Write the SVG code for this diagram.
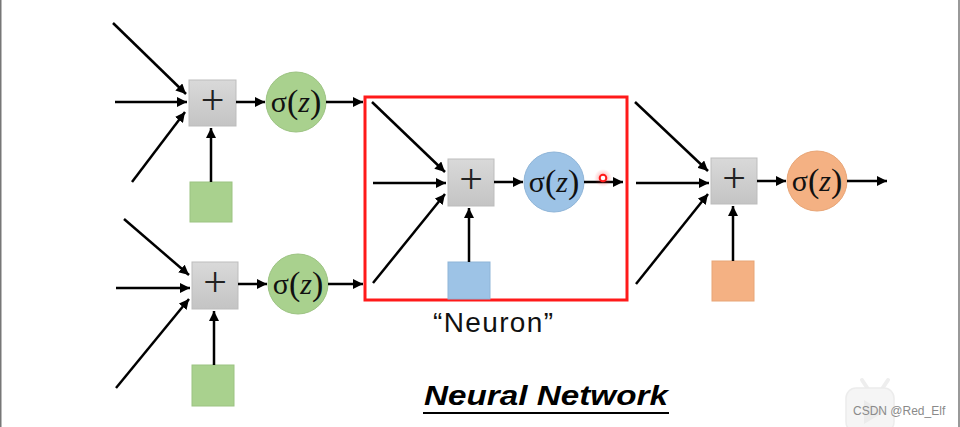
<svg xmlns="http://www.w3.org/2000/svg" width="960" height="427" viewBox="0 0 960 427">
<defs>
<marker id="ah" viewBox="0 0 10 10" refX="10" refY="5" markerWidth="4" markerHeight="4" markerUnits="strokeWidth" orient="auto">
<path d="M0,0 L10,5 L0,10 Z" fill="#000"/>
</marker>
<linearGradient id="gbox" x1="0" y1="0" x2="0" y2="1">
<stop offset="0" stop-color="#d9d9d9"/>
<stop offset="1" stop-color="#c4c4c4"/>
</linearGradient>
<radialGradient id="glow">
<stop offset="0" stop-color="#ff3030" stop-opacity="0.45"/>
<stop offset="1" stop-color="#ff3030" stop-opacity="0"/>
</radialGradient>
</defs>
<style>
.c line{stroke:#000;stroke-width:2.5;marker-end:url(#ah);}
.box{fill:url(#gbox);stroke:#bdbdbd;stroke-width:1;}
.plus{font-family:"Liberation Serif",serif;font-size:42px;fill:#222;text-anchor:middle;}
.sig{font-family:"Liberation Serif",serif;font-size:30px;fill:#111;text-anchor:middle;}
.g{fill:#a9d18e;stroke:#9cc382;stroke-width:1;}
.b{fill:#9dc3e6;stroke:#8fb5d8;stroke-width:1;}
.o{fill:#f4b183;stroke:#e8a576;stroke-width:1;}
</style>
<rect x="0" y="0" width="960" height="427" fill="#ffffff"/>
<line x1="0.75" y1="0" x2="0.75" y2="427" stroke="#777" stroke-width="1.5"/>
<line x1="959" y1="0" x2="959" y2="427" stroke="#777" stroke-width="1.5"/>

<g id="watermark">
<path d="M862,380 L868,389 M888,380 L882,389" stroke="#eeeeee" stroke-width="4" stroke-linecap="round" fill="none"/>
<rect x="846" y="388" width="48" height="44" rx="10" fill="#f5f5f5" stroke="#ececec" stroke-width="1.5"/>
<path d="M864,400 L864,424 L884,412 Z" fill="#ebebeb"/>
<text x="853" y="415" font-family="Liberation Sans,sans-serif" font-size="12" fill="#8a8a8a">CSDN @Red_Elf</text>
</g>

<g id="neuron-box">
<rect x="365" y="97" width="262" height="203" fill="none" stroke="#ff1a1a" stroke-width="3"/>
</g>

<g id="n1">
<rect class="box" x="189" y="80" width="47" height="46"/>
<text class="plus" x="212.5" y="114">+</text>
<circle class="g" cx="296" cy="102" r="30"/>
<text class="sig" x="296" y="112">σ<tspan font-size="34" dy="1">(</tspan><tspan font-style="italic" dy="-1">z</tspan><tspan font-size="34" dy="1">)</tspan></text>
<rect class="g" x="190" y="182" width="42" height="40"/>
</g>

<g id="n2">
<rect class="box" x="192" y="262" width="46" height="47"/>
<text class="plus" x="215" y="296">+</text>
<circle class="g" cx="298" cy="284" r="30"/>
<text class="sig" x="298" y="294">σ<tspan font-size="34" dy="1">(</tspan><tspan font-style="italic" dy="-1">z</tspan><tspan font-size="34" dy="1">)</tspan></text>
<rect class="g" x="192" y="365" width="42" height="41"/>
</g>

<g id="n3">
<rect class="box" x="448" y="159" width="46" height="47"/>
<text class="plus" x="471" y="193">+</text>
<circle class="b" cx="554" cy="182" r="30"/>
<text class="sig" x="554" y="192">σ<tspan font-size="34" dy="1">(</tspan><tspan font-style="italic" dy="-1">z</tspan><tspan font-size="34" dy="1">)</tspan></text>
<rect class="b" x="448" y="262" width="42" height="37"/>
</g>

<g id="n4">
<rect class="box" x="711" y="158" width="46" height="46"/>
<text class="plus" x="734" y="192">+</text>
<circle class="o" cx="817" cy="181" r="30"/>
<text class="sig" x="817" y="191">σ<tspan font-size="34" dy="1">(</tspan><tspan font-style="italic" dy="-1">z</tspan><tspan font-size="34" dy="1">)</tspan></text>
<rect class="o" x="712" y="261" width="42" height="40"/>
</g>

<g id="connectors" class="c">
<line x1="113" y1="23" x2="186" y2="94"/>
<line x1="115" y1="102" x2="187" y2="102"/>
<line x1="132" y1="182" x2="185" y2="112"/>
<line x1="211" y1="182" x2="211" y2="128"/>
<line x1="236" y1="102" x2="265" y2="102"/>
<line x1="326" y1="102" x2="363" y2="102"/>

<line x1="124" y1="219" x2="189" y2="275"/>
<line x1="116" y1="288" x2="190" y2="288"/>
<line x1="116" y1="388" x2="189" y2="299"/>
<line x1="214" y1="365" x2="214" y2="311"/>
<line x1="238" y1="284" x2="267" y2="284"/>
<line x1="328" y1="284" x2="363" y2="284"/>

<line x1="372" y1="102" x2="445" y2="172"/>
<line x1="373" y1="183" x2="446" y2="183"/>
<line x1="373" y1="283" x2="445" y2="194"/>
<line x1="469" y1="262" x2="469" y2="208"/>
<line x1="494" y1="182" x2="523" y2="182"/>
<line x1="584" y1="182" x2="623" y2="182"/>

<line x1="635" y1="102" x2="708" y2="171"/>
<line x1="636" y1="183" x2="709" y2="183"/>
<line x1="636" y1="284" x2="708" y2="194"/>
<line x1="733" y1="261" x2="733" y2="206"/>
<line x1="757" y1="181" x2="786" y2="181"/>
<line x1="847" y1="181" x2="887" y2="181"/>
</g>

<g id="cursor">
<circle cx="603" cy="178" r="9" fill="url(#glow)"/>
<circle cx="603" cy="178" r="3.3" fill="#fff" stroke="#ff1a1a" stroke-width="2"/>
</g>

<g id="labels">
<text x="493" y="332" font-family="Liberation Sans,sans-serif" font-size="28" fill="#111" text-anchor="middle" textLength="120" lengthAdjust="spacing">“Neuron”</text>
<text x="424" y="405" font-family="Liberation Sans,sans-serif" font-size="28" font-weight="bold" font-style="italic" fill="#000" textLength="244" lengthAdjust="spacingAndGlyphs">Neural Network</text>
<line x1="423" y1="413" x2="669" y2="413" stroke="#000" stroke-width="2"/>
</g>
</svg>
